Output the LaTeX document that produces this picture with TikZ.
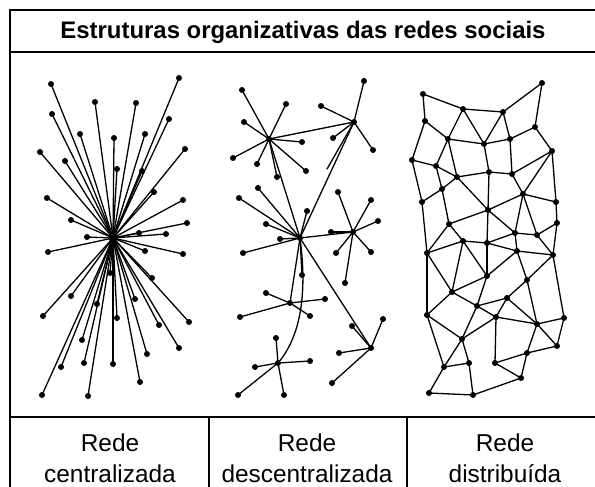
\documentclass[tikz,border=0pt]{standalone}
\usepackage{fontspec}
\setmainfont{Liberation Sans}
\begin{document}
\begin{tikzpicture}[x=1bp,y=-1bp,
  dot/.style={circle,fill=black,inner sep=0pt,minimum size=6bp},
  edge/.style={line width=1.3bp,line cap=round},
  frame/.style={line width=2bp},
  lbl/.style={font=\fontsize{24.5}{30}\selectfont,anchor=base,inner sep=0pt},
  ttl/.style={font=\bfseries\fontsize{24}{30}\selectfont,anchor=base,inner sep=0pt}]
\useasboundingbox (0,0) rectangle (595,487);
% frame
\draw[frame] (10,487) -- (10,10) -- (596,10);
\draw[frame] (10,52) -- (596,52);
\draw[frame] (10,417) -- (596,417);
\draw[frame] (209,417) -- (209,488);
\draw[frame] (407,417) -- (407,488);
\node[ttl] (title) at (303,39) {Estruturas organizativas das redes sociais};
\node[lbl] (l1a) at (110,451) {Rede};
\node[lbl] (l1b) at (110,482) {centralizada};
\node[lbl] (l2a) at (307,451) {Rede};
\node[lbl] (l2b) at (307,482) {descentralizada};
\node[lbl] (l3a) at (505,451) {Rede};
\node[lbl] (l3b) at (505,482) {distribuída};
% centralized network
\node[dot,minimum size=9bp] (H) at (113,238) {};
\foreach \n/\x/\y in {1/51/84,2/179/78,3/95/102,4/136/103,5/52/114,6/169/119,7/80/134,8/114/138,9/145/134,10/40/152,11/185/149,12/65/161,13/117/169,14/142/171,15/154/192,16/47/198,17/183/200,18/71/220,19/187/223,20/87/237,21/166/234,22/139/233,23/48/252,24/145/251,25/183/254,26/152/278,27/71/296,28/97/304,29/135/299,30/43/316,31/117/318,32/189/322,33/159/325,34/82/340,35/179/348,36/147/354,37/61/367,38/84/363,39/113/364,40/140/382,41/42/395,42/88/396,43/110/273}{
  \node[dot] (c\n) at (\x,\y) {};
  \draw[edge] (H.center) -- (c\n.center);
}
% decentralized network
\node[dot] (A) at (269,139) {};
\node[dot] (B) at (354,122) {};
\node[dot] (C) at (300,238) {};
\node[dot] (D) at (353,232) {};
\node[dot] (E) at (290,303) {};
\node[dot] (F) at (278,363) {};
\node[dot] (G) at (371,348) {};
\foreach \h/\lst in {A/{1/242/90,2/286/104,3/244/122,4/302/142,5/233/158,6/257/164,7/306/171,8/277/177},
  B/{1/364/81,2/321/106,3/333/138,4/373/150},
  C/{1/258/188,2/239/198,3/307/211,4/266/224,5/280/239,6/243/253,7/302/275},
  D/{1/338/192,2/371/200,3/378/221,4/336/253,5/371/252,6/345/283,7/331/232},
  E/{1/266/293,2/325/299,3/240/317,4/310/316},
  F/{1/276/338,2/255/367,3/310/361,4/238/395,5/284/395},
  G/{1/383/319,2/352/326,3/339/353,4/332/383}}{
  \foreach \n/\x/\y in \lst {
    \node[dot] (\h\n) at (\x,\y) {};
    \draw[edge] (\h.center) -- (\h\n.center);
  }
}
\coordinate (Bx) at (327,169);
\draw[edge] (B.center) -- (Bx);
\draw[edge] (A.center) -- (B.center);
\draw[edge] (C.center) -- (A.center);
\draw[edge] (C.center) -- (B.center);
\draw[edge] (C.center) -- (D.center);
\draw[edge] (C.center) -- (E.center);
\draw[edge] (C.center) -- (G.center);
\draw[edge] (C.center) .. controls (307,290) and (302,335) .. (F.center);
% distributed network
\foreach \n/\x/\y in {1/423/94,2/463/109,3/503/112,4/542/83,5/425/121,6/535/127,7/448/139,8/484/144,9/510/139,10/552/151,11/412/160,12/436/166,13/457/177,14/489/172,15/512/174,16/442/189,17/523/194,18/422/202,19/556/202,20/488/210,21/449/224,22/557/223,23/515/233,24/537/235,25/463/241,26/487/243,27/427/253,28/517/251,29/553/255,30/487/276,31/527/280,32/452/292,33/507/298,34/477/306,35/427/315,36/496/317,37/537/324,38/564/318,39/462/339,40/557/346,41/527/353,42/444/367,43/469/363,44/495/363,45/521/378,46/429/393,47/473/395}{
  \node[dot] (d\n) at (\x,\y) {};
}
\foreach \a/\b in {1/5,1/2,2/3,3/4,4/6,2/7,2/8,3/8,3/9,5/7,5/11,6/9,6/10,7/8,8/9,7/12,7/13,8/14,9/15,10/15,10/17,10/19,11/12,11/18,12/13,12/16,13/14,14/15,13/16,16/18,16/21,13/20,14/20,15/17,17/20,17/19,17/23,17/24,19/22,18/27,21/27,21/25,21/20,20/23,20/26,25/26,26/23,23/24,24/22,22/29,24/29,23/28,28/29,25/27,26/28,27/35,27/32,25/32,25/30,26/30,28/30,28/31,29/31,29/38,32/30,32/34,30/34,34/33,31/33,31/37,33/37,33/36,34/36,36/37,37/38,38/40,37/40,37/41,41/40,41/45,44/41,44/45,36/44,36/39,34/39,32/35,35/39,35/42,39/42,39/43,42/43,42/46,43/47,46/47,47/45}{
  \draw[edge] (d\a.center) -- (d\b.center);
}
\end{tikzpicture}
\end{document}
